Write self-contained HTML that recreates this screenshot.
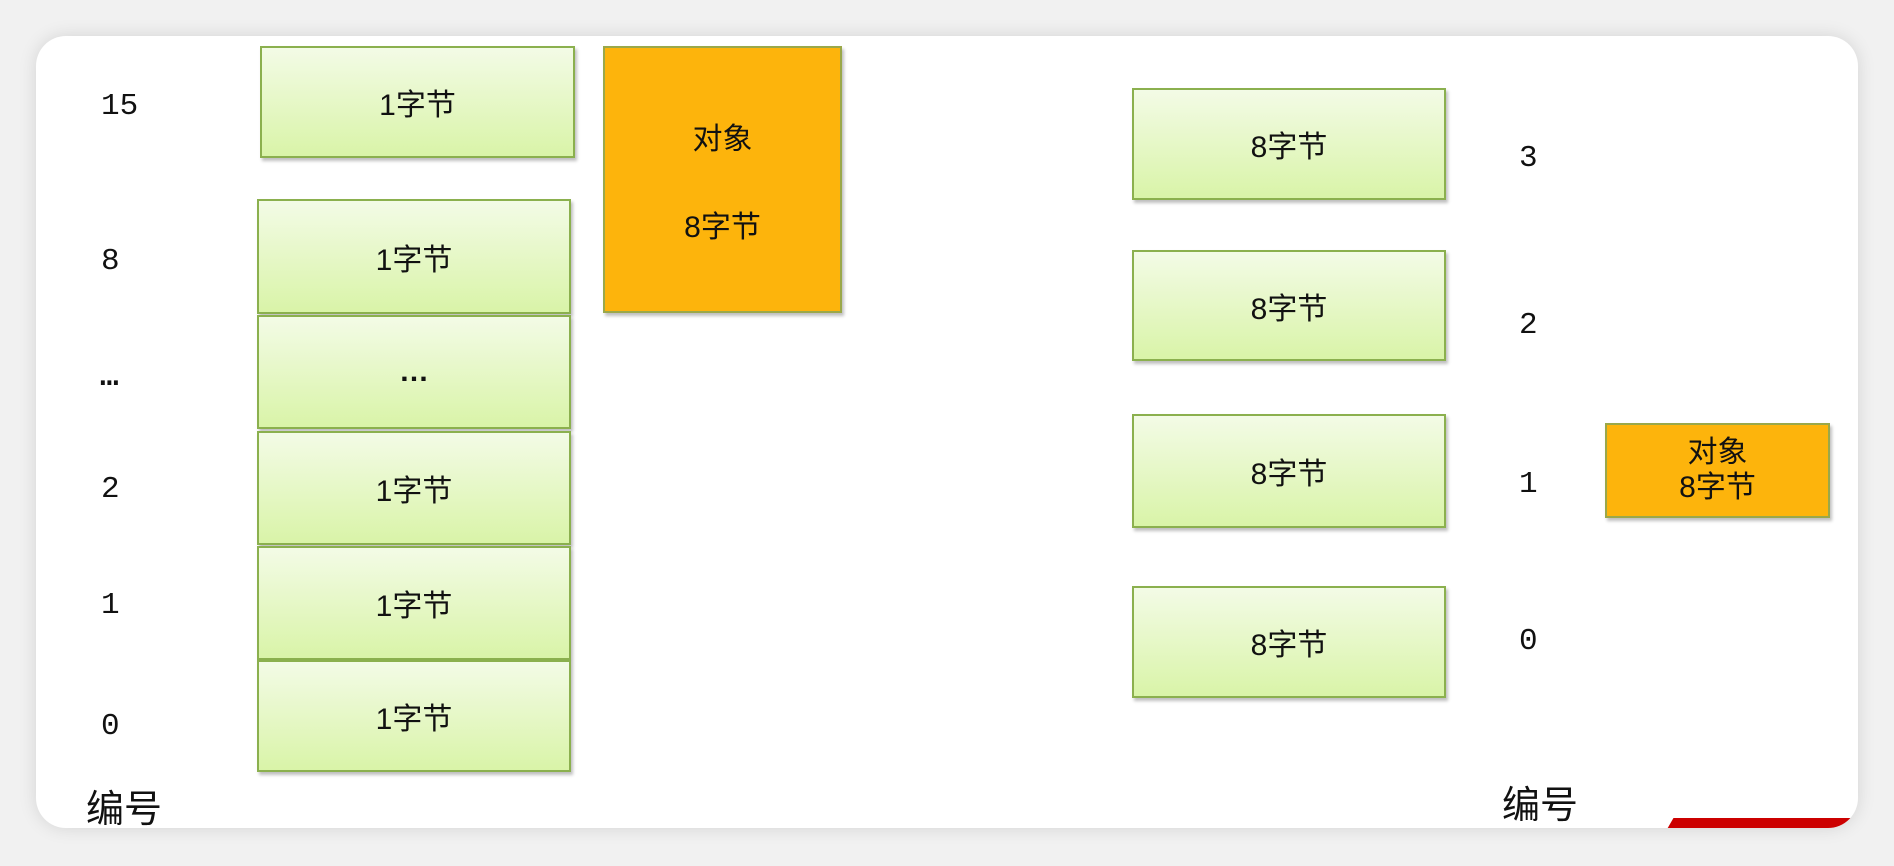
<!DOCTYPE html>
<html><head><meta charset="utf-8"><style>
html,body{margin:0;padding:0}
body{width:1894px;height:866px;background:#f1f1f1;position:relative;overflow:hidden;font-family:"Liberation Sans","Noto Sans CJK SC",sans-serif}
.card{position:absolute;left:36px;top:36px;width:1822px;height:792px;background:#fff;border-radius:30px;box-shadow:0 0 18px rgba(0,0,0,.12);overflow:hidden}
.g,.o{position:absolute;box-sizing:border-box;display:flex;align-items:center;justify-content:center;flex-direction:column;font-size:30px;color:#111;box-shadow:2px 3px 3px rgba(0,0,0,.25)}
.g{background:linear-gradient(#f3fbe6,#d9f4a8);border:2px solid #8bb04e}
.o{background:#fdb40c;border:2px solid #9aa84a}
.n{position:absolute;font-family:"Liberation Mono","DejaVu Sans Mono",monospace;font-size:31px;color:#111}
.l{position:absolute;font-size:38px;color:#111;font-family:"Liberation Sans","Noto Sans CJK SC",sans-serif}
b{font-weight:bold}
</style></head><body>
<div class="card">
<div style="position:absolute;left:1634px;top:782px;width:180px;height:12px;background:#c00;transform:skewX(-30deg)"></div>
</div>
<div class="g" style="left:260px;top:46px;width:315px;height:112px">1字节</div>
<div class="g" style="left:257px;top:199px;width:314px;height:115px">1字节</div>
<div class="g" style="left:257px;top:315px;width:314px;height:114px"><b>…</b></div>
<div class="g" style="left:257px;top:431px;width:314px;height:114px">1字节</div>
<div class="g" style="left:257px;top:546px;width:314px;height:114px">1字节</div>
<div class="g" style="left:257px;top:660px;width:314px;height:112px">1字节</div>
<div class="o" style="left:603px;top:46px;width:239px;height:267px"><div>对象</div><div style="margin-top:44px">8字节</div></div>
<div class="n" style="left:101px;top:89px">15</div>
<div class="n" style="left:101px;top:244px">8</div>
<div class="n" style="left:100px;top:360px;font-weight:bold">…</div>
<div class="n" style="left:101px;top:472px">2</div>
<div class="n" style="left:101px;top:588px">1</div>
<div class="n" style="left:101px;top:709px">0</div>
<div class="l" style="left:86px;top:778px">编号</div>
<div class="g" style="left:1132px;top:88px;width:314px;height:112px">8字节</div>
<div class="g" style="left:1132px;top:250px;width:314px;height:111px">8字节</div>
<div class="g" style="left:1132px;top:414px;width:314px;height:114px">8字节</div>
<div class="g" style="left:1132px;top:586px;width:314px;height:112px">8字节</div>
<div class="n" style="left:1519px;top:141px">3</div>
<div class="n" style="left:1519px;top:308px">2</div>
<div class="n" style="left:1519px;top:467px">1</div>
<div class="n" style="left:1519px;top:624px">0</div>
<div class="o" style="left:1605px;top:423px;width:225px;height:95px;line-height:1.15"><div>对象</div><div>8字节</div></div>
<div class="l" style="left:1502px;top:774px">编号</div>
</body></html>
